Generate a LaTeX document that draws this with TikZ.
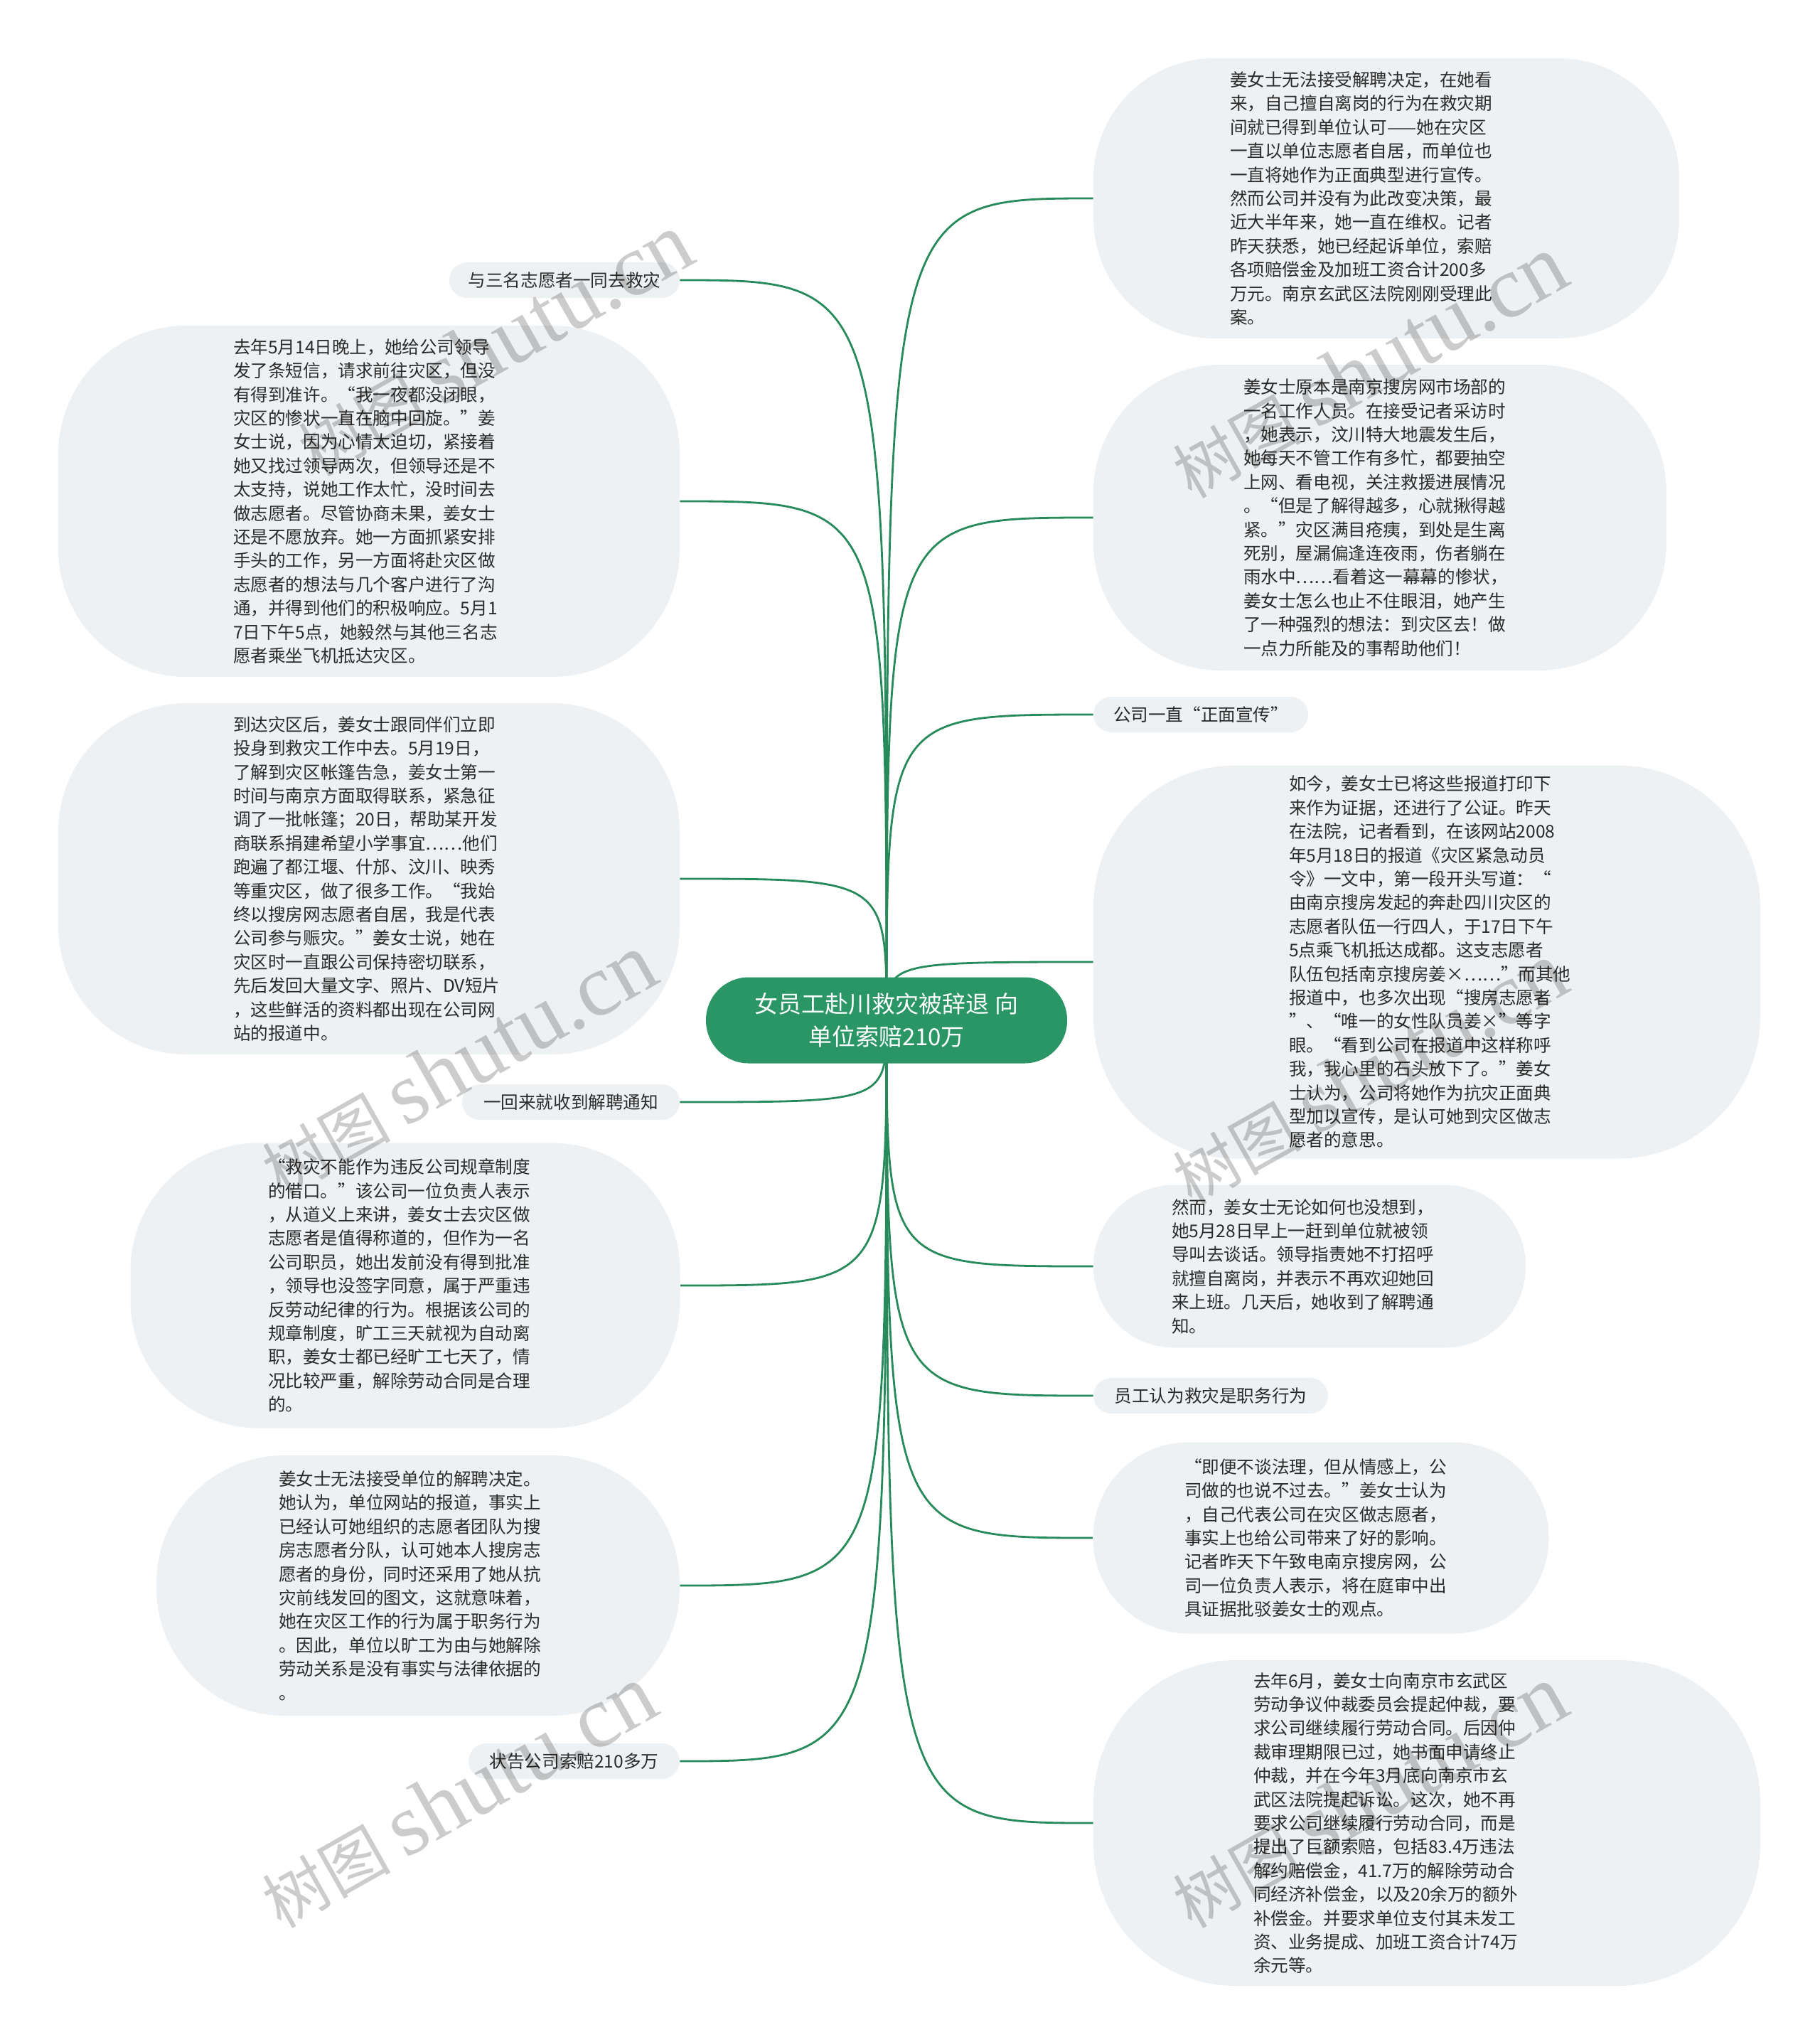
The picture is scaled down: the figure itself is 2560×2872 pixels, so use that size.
\documentclass[tikz,border=0pt]{standalone}
\usepackage{fontspec}
\setmainfont{Noto Sans CJK SC}
\newfontfamily\wmserif{Liberation Serif}
\usetikzlibrary{backgrounds}
\definecolor{rootgreen}{HTML}{2A9565}
\definecolor{linkgreen}{HTML}{278A5B}
\definecolor{bubblegray}{HTML}{EEF1F3}
\definecolor{textgray}{HTML}{2B2B2B}
\setlength{\parindent}{0pt}

\tikzset{
  rootnode/.style={fill=rootgreen, text=white, rounded corners=30pt,
    minimum width=254pt, minimum height=60.5pt, align=center,
    font=\fontsize{16.5pt}{23pt}\selectfont},
  bubble/.style={fill=bubblegray, text=textgray, rounded corners=90pt,
    align=left, inner sep=0pt, font=\fontsize{12.3pt}{16.7pt}\selectfont},
  pill/.style={fill=bubblegray, text=textgray, rounded corners=12.5pt,
    minimum height=25pt, inner sep=0pt, font=\fontsize{12.3pt}{16.7pt}\selectfont},
  link/.style={draw=linkgreen, line width=1.4pt},
  wmark/.style={text=black, text opacity=0.2, rotate=29.5,
    font=\fontsize{45pt}{50pt}\selectfont},
}

\begin{document}
\begin{tikzpicture}[x=0.5pt,y=-0.5pt]
\useasboundingbox (0,0) rectangle (2560,2872);

\node[rootnode] (root) at (1247,1435) {女员工赴川救灾被辞退 向\\单位索赔210万};

% left side
\node[pill, minimum width=162pt] (l1) at (794,394) {与三名志愿者一同去救灾};
\node[bubble, minimum width=437pt, minimum height=247pt, text width=191pt] (l2) at (519,705) {去年5月14日晚上，她给公司领导\\发了条短信，请求前往灾区，但没\\有得到准许。“我一夜都没闭眼，\\灾区的惨状一直在脑中回旋。”姜\\女士说，因为心情太迫切，紧接着\\她又找过领导两次，但领导还是不\\太支持，说她工作太忙，没时间去\\做志愿者。尽管协商未果，姜女士\\还是不愿放弃。她一方面抓紧安排\\手头的工作，另一方面将赴灾区做\\志愿者的想法与几个客户进行了沟\\通，并得到他们的积极响应。5月1\\7日下午5点，她毅然与其他三名志\\愿者乘坐飞机抵达灾区。};
\node[bubble, minimum width=437pt, minimum height=247pt, text width=191pt] (l3) at (519,1236) {到达灾区后，姜女士跟同伴们立即\\投身到救灾工作中去。5月19日，\\了解到灾区帐篷告急，姜女士第一\\时间与南京方面取得联系，紧急征\\调了一批帐篷；20日，帮助某开发\\商联系捐建希望小学事宜……他们\\跑遍了都江堰、什邡、汶川、映秀\\等重灾区，做了很多工作。“我始\\终以搜房网志愿者自居，我是代表\\公司参与赈灾。”姜女士说，她在\\灾区时一直跟公司保持密切联系，\\先后发回大量文字、照片、DV短片\\，这些鲜活的资料都出现在公司网\\站的报道中。};
\node[pill, minimum width=153pt] (l4) at (803,1550) {一回来就收到解聘通知};
\node[bubble, minimum width=386.5pt, minimum height=200.5pt, text width=193pt] (l5) at (570,1808) {“救灾不能作为违反公司规章制度\\的借口。”该公司一位负责人表示\\，从道义上来讲，姜女士去灾区做\\志愿者是值得称道的，但作为一名\\公司职员，她出发前没有得到批准\\，领导也没签字同意，属于严重违\\反劳动纪律的行为。根据该公司的\\规章制度，旷工三天就视为自动离\\职，姜女士都已经旷工七天了，情\\况比较严重，解除劳动合同是合理\\的。};
\node[bubble, minimum width=368pt, minimum height=183pt, text width=196pt] (l6) at (588,2230) {姜女士无法接受单位的解聘决定。\\她认为，单位网站的报道，事实上\\已经认可她组织的志愿者团队为搜\\房志愿者分队，认可她本人搜房志\\愿者的身份，同时还采用了她从抗\\灾前线发回的图文，这就意味着，\\她在灾区工作的行为属于职务行为\\。因此，单位以旷工为由与她解除\\劳动关系是没有事实与法律依据的\\。};
\node[pill, minimum width=148.5pt] (l7) at (807.5,2477) {状告公司索赔210多万};

% right side
\node[bubble, rounded corners=85pt, minimum width=412pt, minimum height=197pt, text width=220pt] (r1) at (1950,279) {姜女士无法接受解聘决定，在她看\\来，自己擅自离岗的行为在救灾期\\间就已得到单位认可——她在灾区\\一直以单位志愿者自居，而单位也\\一直将她作为正面典型进行宣传。\\然而公司并没有为此改变决策，最\\近大半年来，她一直在维权。记者\\昨天获悉，她已经起诉单位，索赔\\各项赔偿金及加班工资合计200多\\万元。南京玄武区法院刚刚受理此\\案。};
\node[bubble, minimum width=403pt, minimum height=215pt, text width=192pt] (r2) at (1941,728) {姜女士原本是南京搜房网市场部的\\一名工作人员。在接受记者采访时\\，她表示，汶川特大地震发生后，\\她每天不管工作有多忙，都要抽空\\上网、看电视，关注救援进展情况\\。“但是了解得越多，心就揪得越\\紧。”灾区满目疮痍，到处是生离\\死别，屋漏偏逢连夜雨，伤者躺在\\雨水中……看着这一幕幕的惨状，\\姜女士怎么也止不住眼泪，她产生\\了一种强烈的想法：到灾区去！做\\一点力所能及的事帮助他们！};
\node[pill, minimum width=151pt] (r3) at (1689,1005) {公司一直“正面宣传”};
\node[bubble, rounded corners=100pt, minimum width=469pt, minimum height=276.5pt, text width=194pt] (r4) at (2007,1353) {如今，姜女士已将这些报道打印下\\来作为证据，还进行了公证。昨天\\在法院，记者看到，在该网站2008\\年5月18日的报道《灾区紧急动员\\令》一文中，第一段开头写道：“\\由南京搜房发起的奔赴四川灾区的\\志愿者队伍一行四人，于17日下午\\5点乘飞机抵达成都。这支志愿者\\队伍包括南京搜房姜×……”而其他\\报道中，也多次出现“搜房志愿者\\”、“唯一的女性队员姜×”等字\\眼。“看到公司在报道中这样称呼\\我，我心里的石头放下了。”姜女\\士认为，公司将她作为抗灾正面典\\型加以宣传，是认可她到灾区做志\\愿者的意思。};
\node[bubble, rounded corners=57pt, minimum width=304pt, minimum height=114.5pt, text width=194pt] (r5) at (1842,1781) {然而，姜女士无论如何也没想到，\\她5月28日早上一赶到单位就被领\\导叫去谈话。领导指责她不打招呼\\就擅自离岗，并表示不再欢迎她回\\来上班。几天后，她收到了解聘通\\知。};
\node[pill, minimum width=165pt] (r6) at (1703,1963) {员工认为救灾是职务行为};
\node[bubble, rounded corners=67pt, minimum width=320.5pt, minimum height=134.5pt, text width=192pt] (r7) at (1858,2163) {“即便不谈法理，但从情感上，公\\司做的也说不过去。”姜女士认为\\，自己代表公司在灾区做志愿者，\\事实上也给公司带来了好的影响。\\记者昨天下午致电南京搜房网，公\\司一位负责人表示，将在庭审中出\\具证据批驳姜女士的观点。};
\node[bubble, rounded corners=100pt, minimum width=469pt, minimum height=229pt, text width=244pt] (r8) at (2007,2564) {去年6月，姜女士向南京市玄武区\\劳动争议仲裁委员会提起仲裁，要\\求公司继续履行劳动合同。后因仲\\裁审理期限已过，她书面申请终止\\仲裁，并在今年3月底向南京市玄\\武区法院提起诉讼。这次，她不再\\要求公司继续履行劳动合同，而是\\提出了巨额索赔，包括83.4万违法\\解约赔偿金，41.7万的解除劳动合\\同经济补偿金，以及20余万的额外\\补偿金。并要求单位支付其未发工\\资、业务提成、加班工资合计74万\\余元等。};

\begin{scope}[on background layer]
\fill[white] (0,0) rectangle (2560,2872);
\foreach \n in {l1,l2,l3,l4,l5,l6,l7}
  \draw[link] (root.center) .. controls (root.center |- \n.east) .. (\n.east);
\foreach \n in {r1,r2,r3,r4,r5,r6,r7,r8}
  \draw[link] (root.center) .. controls (root.center |- \n.west) .. (\n.west);
\end{scope}

% watermarks
\node[wmark] (wm1) at (696,485) {树图 {\wmserif\fontsize{62pt}{66pt}\selectfont shutu.cn}};
\node[wmark] (wm2) at (1926,516) {树图 {\wmserif\fontsize{62pt}{66pt}\selectfont shutu.cn}};
\node[wmark] (wm3) at (645,1498) {树图 {\wmserif\fontsize{62pt}{66pt}\selectfont shutu.cn}};
\node[wmark] (wm4) at (1926,1510) {树图 {\wmserif\fontsize{62pt}{66pt}\selectfont shutu.cn}};
\node[wmark] (wm5) at (645,2527) {树图 {\wmserif\fontsize{62pt}{66pt}\selectfont shutu.cn}};
\node[wmark] (wm6) at (1926,2527) {树图 {\wmserif\fontsize{62pt}{66pt}\selectfont shutu.cn}};
\end{tikzpicture}
\end{document}
